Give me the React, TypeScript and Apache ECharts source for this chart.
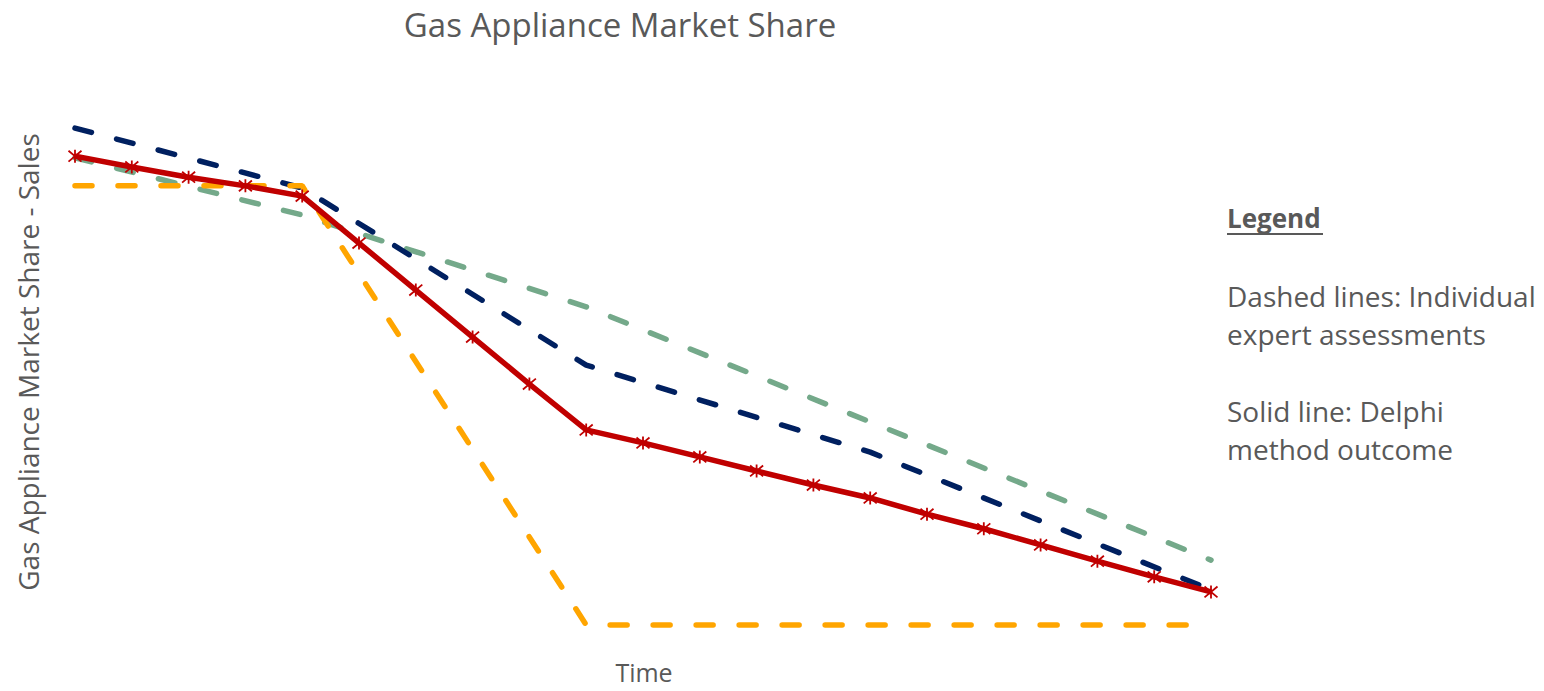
import React, { useEffect, useRef } from "react";
import * as echarts from "echarts";

// x = time step (0..20), y = market share (arbitrary 0..100 scale, no ticks shown)
const timeSteps = [0, 1, 2, 3, 4, 5, 6, 7, 8, 9, 10, 11, 12, 13, 14, 15, 16, 17, 18, 19, 20];
const delphiValues = [89.6, 87.6, 85.7, 84.1, 82.2, 73.5, 64.8, 56.1, 47.4, 38.9, 36.5, 33.9, 31.3, 28.7, 26.3, 23.3, 20.6, 17.6, 14.6, 11.7, 8.9];
const expertNavy: [number, number][] = [[0, 94.8], [4, 83.7], [9, 50.9], [14, 34.8], [20, 9.3]];
const expertGreen: [number, number][] = [[0, 89.3], [4, 78.7], [9, 61.7], [20, 14.8]];
const expertOrange: [number, number][] = [[0, 84.1], [4, 84.1], [9, 2.8], [20, 2.8]];

const TITLE = "Gas Appliance Market Share";
const Y_NAME = "Gas Appliance Market Share - Sales";
const X_NAME = "Time";
const LEGEND_HEAD = "Legend";
const legendLines = ["Dashed lines: Individual", "expert assessments", "Solid line: Delphi", "method outcome"];
const legendLineY = [296, 334, 411, 449];

const FONT = "'Open Sans', 'Noto Sans', sans-serif";
const GREY = "#595959";

export default function App() {
  const ref = useRef<HTMLDivElement>(null);
  useEffect(() => {
    if (!ref.current) return;
    const chart = echarts.init(ref.current, undefined, { renderer: "svg" });
    const dash = { type: [17, 26] as number[], cap: "round" as const, width: 5.5 };
    chart.setOption({
      animation: false,
      backgroundColor: "#ffffff",
      grid: { left: 75, right: 333, top: 100, bottom: 51, outerBoundsMode: "none", containLabel: false },
      xAxis: {
        type: "value",
        min: 0,
        max: 20,
        axisLine: { show: false },
        axisTick: { show: false },
        axisLabel: { show: false },
        splitLine: { show: false },
      },
      yAxis: {
        type: "value",
        min: 0,
        max: 100,
        axisLine: { show: false },
        axisTick: { show: false },
        axisLabel: { show: false },
        splitLine: { show: false },
      },
      series: [
        {
          type: "line",
          name: "Expert A",
          data: expertGreen,
          symbol: "none",
          lineStyle: { ...dash, color: "#74A98A" },
        },
        {
          type: "line",
          name: "Expert B",
          data: expertNavy,
          symbol: "none",
          lineStyle: { ...dash, color: "#002060" },
        },
        {
          type: "line",
          name: "Expert C",
          data: expertOrange,
          symbol: "none",
          lineStyle: { ...dash, color: "#FFA500" },
        },
        {
          type: "line",
          name: "Delphi",
          data: timeSteps.map((t, i) => [t, delphiValues[i]]),
          symbol: "path://M0,0L10,10M10,0L0,10M5,-1L5,11",
          symbolSize: 13,
          itemStyle: { color: "#C00000", borderColor: "#C00000", borderWidth: 1.8 },
          lineStyle: { color: "#C00000", width: 5.5 },
        },
      ],
      graphic: [
        {
          type: "text",
          x: 620,
          y: 24,
          style: {
            text: TITLE, fontFamily: FONT, fontSize: 33, fill: GREY,
            align: "center", verticalAlign: "middle",
          },
        },
        {
          type: "text",
          x: 28,
          y: 362,
          rotation: Math.PI / 2,
          style: {
            text: Y_NAME, fontFamily: FONT, fontSize: 28, fill: GREY,
            align: "center", verticalAlign: "middle",
          },
        },
        {
          type: "text",
          x: 644,
          y: 672,
          style: {
            text: X_NAME, fontFamily: FONT, fontSize: 25, lineHeight: 26, fill: GREY,
            align: "center", verticalAlign: "middle",
          },
        },
        {
          type: "text",
          x: 1227,
          y: 218,
          style: {
            text: LEGEND_HEAD, fontFamily: FONT, fontSize: 26, fontWeight: "bold", fill: GREY,
            align: "left", verticalAlign: "middle",
          },
        },
        {
          type: "line",
          shape: { x1: 1227, y1: 234, x2: 1323, y2: 234 },
          style: { stroke: GREY, lineWidth: 2 },
        },
        ...legendLines.map((t, i) => ({
          type: "text",
          x: 1227,
          y: legendLineY[i],
          style: {
            text: t, fontFamily: FONT, fontSize: 28, fill: GREY,
            align: "left", verticalAlign: "middle",
          },
        })),
      ],
    });
    return () => chart.dispose();
  }, []);
  return (
    <div
      ref={ref}
      style={{ position: "absolute", left: 0, top: 0, width: 1544, height: 691 }}
    />
  );
}
